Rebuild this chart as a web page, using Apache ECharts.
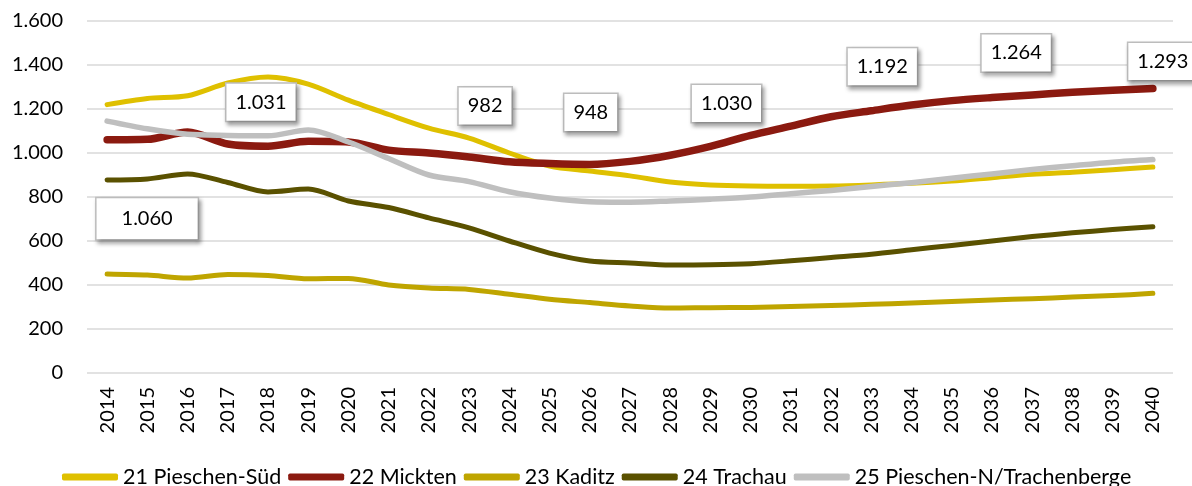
<!DOCTYPE html>
<html>
<head>
<meta charset="utf-8">
<script src="https://cdn.jsdelivr.net/npm/echarts@6/dist/echarts.min.js"></script>
<style>
  html, body { margin: 0; padding: 0; background: #fff; }
  #chart { width: 1192px; height: 486px; }
</style>
</head>
<body>
<div id="chart"></div>
<script>
var years = ['2014','2015','2016','2017','2018','2019','2020','2021','2022','2023','2024','2025','2026','2027',
  '2028','2029','2030','2031','2032','2033','2034','2035','2036','2037','2038','2039','2040'];

var pieschenSued = [1220,1248,1260,1318,1345,1313,1240,1175,1113,1068,1000,941,918,896,868,855,850,849,850,855,862,873,888,903,913,924,936];
var mickten      = [1060,1062,1095,1041,1031,1053,1050,1013,1000,982,960,952,948,962,990,1030,1080,1122,1165,1192,1218,1238,1252,1264,1276,1285,1293];
var kaditz       = [450,445,432,448,443,428,430,400,386,380,358,335,320,305,295,297,298,302,307,312,318,325,332,338,345,352,362];
var trachau      = [877,882,905,866,823,836,782,752,705,660,600,545,509,500,491,492,497,510,525,540,560,580,600,620,637,652,665];
var pieschenNord = [1145,1110,1085,1080,1078,1105,1050,975,900,870,824,795,778,776,782,790,800,815,830,848,865,885,905,925,942,958,970];

// labelled points on the Mickten line
var labelYears = ['2014','2018','2023','2026','2029','2033','2037','2040'];

var seriesNames = ['21 Pieschen-Süd','22 Mickten','23 Kaditz','24 Trachau','25 Pieschen-N/Trachenberge'];
var seriesColors = ['#DFC000','#8B1A10','#BFA500','#5A5100','#BFBFBF'];
var seriesWidths = [5,7.5,5,5,5.5];
var seriesData = [pieschenSued, mickten, kaditz, trachau, pieschenNord];

function fmt(v) {
    return String(v).replace(/\B(?=(\d{3})+(?!\d))/g, '.');
}

var labelOffsets = [[40,79],[-7,-44],[16,-51],[1,-52],[16,-43],[11,-44],[-16,-42],[10,-27]];
var labelPads = [[10,25],[8,9],[8,9],[8,9],[8,9],[8,9],[8,9],[8,9]];

var labelData = labelYears.map(function (y, i) {
    return {
        value: [y, mickten[years.indexOf(y)]],
        label: { offset: labelOffsets[i], padding: labelPads[i] }
    };
});

var myChart = echarts.init(document.getElementById('chart'));

var series = seriesNames.map(function (name, i) {
    return {
        name: name,
        type: 'line',
        data: seriesData[i],
        smooth: 0.3,
        symbol: 'none',
        color: seriesColors[i],
        lineStyle: { width: seriesWidths[i], color: seriesColors[i], cap: 'round', join: 'round' }
    };
});

series.push({
    name: 'labels',
    type: 'scatter',
    data: labelData,
    symbolSize: 0,
    itemStyle: { color: '#fff', opacity: 1 },
    z: 10,
    label: {
        show: true,
        position: 'inside',
        formatter: function (p) { return fmt(p.value[1]); },
        color: '#000',
        opacity: 1,
        fontFamily: 'Lato',
        fontSize: 20,
        lineHeight: 21,
        backgroundColor: '#ffffff',
        borderColor: '#BFBFBF',
        borderWidth: 1.5,
        shadowColor: 'rgba(0,0,0,0.3)',
        shadowBlur: 4,
        shadowOffsetX: 2,
        shadowOffsetY: 3
    }
});

var option = {
    animation: false,
    backgroundColor: '#fff',
    textStyle: { fontFamily: 'Lato' },
    grid: { left: 87, right: 19, top: 21, bottom: 113, containLabel: false },
    legend: {
        data: seriesNames,
        left: 62,
        top: 466,
        padding: 0,
        icon: 'roundRect',
        itemWidth: 56,
        itemHeight: 7,
        itemGap: 7,
        textStyle: { fontFamily: 'Lato', fontSize: 21.5, color: '#000' }
    },
    xAxis: {
        type: 'category',
        data: years,
        boundaryGap: true,
        axisTick: { show: false },
        axisLine: { show: false },
        axisLabel: { rotate: 90, interval: 0, margin: 14, fontSize: 20, color: '#000', fontFamily: 'Lato' }
    },
    yAxis: {
        type: 'value',
        min: 0,
        max: 1600,
        interval: 200,
        axisLine: { show: false },
        axisTick: { show: false },
        axisLabel: { margin: 24, fontSize: 20, color: '#000', fontFamily: 'Lato', formatter: fmt },
        splitLine: { lineStyle: { color: '#D9D9D9', width: 1.5 } }
    },
    series: series
};

myChart.setOption(option);
window.addEventListener('resize', function () { myChart.resize(); });
</script>
</body>
</html>
